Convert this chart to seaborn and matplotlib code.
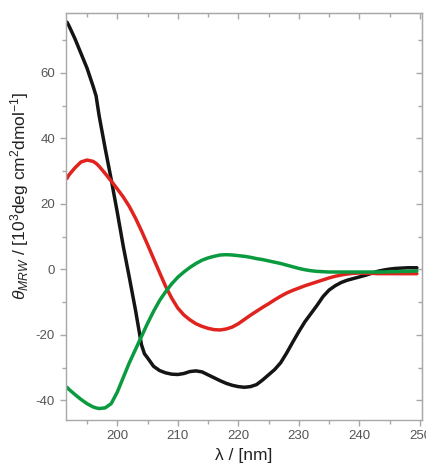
import matplotlib
matplotlib.use("Agg")
import matplotlib.pyplot as plt
from matplotlib.ticker import MultipleLocator
import pandas as pd
import seaborn as sns

# Far-UV CD spectra (mean residue ellipticity, 10^3 deg cm^2 dmol^-1)
wavelength = [191.7, 192, 193, 194, 195, 196, 196.5, 197, 198, 199, 200, 201, 202, 203,
              204, 204.5, 205, 206, 207, 208, 209, 210, 211, 212, 213, 214, 215, 216,
              217, 218, 219, 220, 221, 222, 223, 224, 225, 226, 227, 228, 229, 230, 231,
              232, 233, 234, 235, 236, 237, 238, 239, 240, 241, 242, 243, 244, 245, 246,
              247, 248, 249, 249.5]

theta_black = [75.5, 74.5, 70.5, 66.0, 61.5, 56.0, 53.0, 47.0, 37.0, 27.5, 17.5, 7.0, -2.5, -12.3,
               -23.0, -25.8, -27.0, -29.6, -30.9, -31.6, -32.0, -32.1, -31.8, -31.2, -31.0, -31.3, -32.2, -33.1,
               -34.0, -34.8, -35.4, -35.8, -36.0, -35.8, -35.2, -33.8, -32.2, -30.6, -28.5, -25.5, -22.2, -19.0, -16.0,
               -13.5, -11.0, -8.3, -6.3, -5.0, -4.0, -3.3, -2.8, -2.3, -1.8, -1.2, -0.6, -0.2, 0.1, 0.3,
               0.4, 0.5, 0.5, 0.5]

theta_red = [27.8, 28.8, 31.0, 32.8, 33.4, 33.0, 32.4, 31.5, 29.3, 27.0, 24.6, 22.1, 19.2, 15.7,
             11.8, 9.7, 7.6, 3.3, -1.0, -5.2, -8.8, -11.8, -13.9, -15.4, -16.6, -17.4, -18.0, -18.4,
             -18.5, -18.2, -17.6, -16.6, -15.3, -14.0, -12.8, -11.6, -10.5, -9.3, -8.2, -7.2, -6.4, -5.7, -5.0,
             -4.4, -3.8, -3.2, -2.6, -2.1, -1.7, -1.4, -1.2, -1.1, -1.2, -1.2, -1.3, -1.3, -1.3, -1.3,
             -1.3, -1.3, -1.3, -1.3]

theta_green = [-36.0, -36.6, -38.2, -39.7, -41.0, -42.0, -42.3, -42.5, -42.3, -41.0, -37.5, -33.0, -28.5, -24.5,
               -20.5, -18.5, -16.5, -12.8, -9.5, -6.8, -4.4, -2.4, -0.8, 0.6, 1.8, 2.8, 3.5, 4.0,
               4.4, 4.5, 4.4, 4.2, 4.0, 3.7, 3.3, 3.0, 2.6, 2.2, 1.8, 1.3, 0.8, 0.3, -0.1,
               -0.4, -0.6, -0.7, -0.8, -0.8, -0.8, -0.8, -0.8, -0.8, -0.8, -0.8, -0.8, -0.8, -0.7, -0.7,
               -0.6, -0.6, -0.5, -0.5]

series_names = ["black", "red", "green"]
series_colors = ["#141414", "#e0231e", "#0a9a3f"]

frames = []
for name, vals in zip(series_names, [theta_black, theta_red, theta_green]):
    frames.append(pd.DataFrame({"wavelength": wavelength, "theta": vals, "sample": name}))
df = pd.concat(frames, ignore_index=True)

sns.set_style("ticks")
plt.rcParams["font.family"] = ["Liberation Sans", "DejaVu Sans"]
plt.rcParams["mathtext.fontset"] = "custom"
plt.rcParams["mathtext.rm"] = "Liberation Sans"
plt.rcParams["mathtext.it"] = "Liberation Sans:italic"
plt.rcParams["axes.unicode_minus"] = False

fig = plt.figure(figsize=(4.27, 4.66), dpi=100)
ax = fig.add_axes([0.1534, 0.0987, 0.9876 - 0.1534, 0.972 - 0.0987])

sns.lineplot(data=df, x="wavelength", y="theta", hue="sample",
             palette=dict(zip(series_names, series_colors)), sort=False,
             linewidth=2.5, legend=False, ax=ax)

ax.set_xlim(191.45, 250.3)
ax.set_ylim(-46, 78.3)

frame_color = "#a8a8a8"
tick_label_color = "#555555"
for sp in ax.spines.values():
    sp.set_color(frame_color)
    sp.set_linewidth(1.0)

ax.xaxis.set_major_locator(MultipleLocator(10))
ax.xaxis.set_minor_locator(MultipleLocator(5))
ax.yaxis.set_major_locator(MultipleLocator(20))
ax.yaxis.set_minor_locator(MultipleLocator(10))
ax.tick_params(which="both", direction="out", color=frame_color, width=1.0,
               labelsize=9.5, labelcolor=tick_label_color)
ax.tick_params(which="major", length=4)
ax.tick_params(which="minor", length=3)

# Mirrored inward ticks on the top and right edges
top = ax.secondary_xaxis("top")
right = ax.secondary_yaxis("right")
top.xaxis.set_major_locator(MultipleLocator(10))
top.xaxis.set_minor_locator(MultipleLocator(5))
right.yaxis.set_major_locator(MultipleLocator(20))
right.yaxis.set_minor_locator(MultipleLocator(10))
for sec in (top, right):
    sec.tick_params(which="both", direction="in", color=frame_color, width=1.0,
                    labelleft=False, labelright=False, labeltop=False, labelbottom=False)
    sec.tick_params(which="major", length=4)
    sec.tick_params(which="minor", length=3)
    for sp in sec.spines.values():
        sp.set_color(frame_color)

ax.set_xlabel("λ / [nm]", fontsize=12.5, color="#222222", labelpad=4)
ax.set_ylabel(r"$\theta_{MRW}$ / [10$^3$deg cm$^2$dmol$^{-1}$]", fontsize=12.5,
              color="#222222")
ax.yaxis.set_label_coords(-0.097, 0.55)

fig.savefig("out.png", dpi=100)
